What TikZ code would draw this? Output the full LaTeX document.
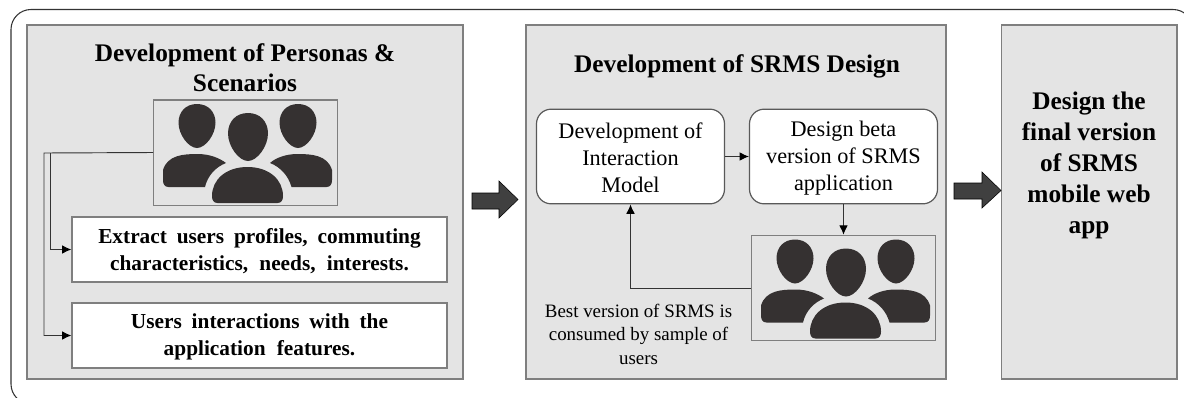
\documentclass[tikz,border=0pt]{standalone}
\usepackage{fontspec}
\setmainfont{Liberation Serif}
\usetikzlibrary{arrows.meta,calc}
\definecolor{panelgray}{HTML}{E4E4E4}
\definecolor{edgegray}{HTML}{7F7F7F}
\definecolor{icondark}{HTML}{353131}
\definecolor{arrowdark}{HTML}{404040}
\newcommand{\headshape}[4]{%
  \fill[icondark,shift={(#1,#2)}] (0,-#4)
   .. controls ({.6*#3},-#4) and (#3,{-.65*#4}) .. (#3,{-.15*#4})
   .. controls (#3,{.4*#4}) and ({.45*#3},#4) .. (0,#4)
   .. controls ({-.45*#3},#4) and ({-#3},{.4*#4}) .. ({-#3},{-.15*#4})
   .. controls ({-#3},{-.65*#4}) and ({-.6*#3},-#4) .. (0,-#4) -- cycle;}
\newcommand{\wsa}{\hspace{3.4pt}\ }
\newcommand{\wsb}{\hspace{4.4pt}\ }
\tikzset{
  x=0.75pt,y=-0.75pt,
  outerframe/.style={draw=black!80,line width=0.8pt,rounded corners=15pt},
  panel/.style={draw=edgegray,fill=panelgray,line width=1.1pt},
  whitebox/.style={draw=edgegray,fill=white,line width=1pt},
  roundbox/.style={draw=black!65,fill=white,line width=0.9pt,rounded corners=11pt},
  iconbox/.style={draw=edgegray,line width=1pt,inner sep=0pt,minimum width=137.6pt,minimum height=79pt},
  boldtitle/.style={inner sep=0pt,align=center,font=\fontsize{19}{22.5}\selectfont\bfseries},
  boldright/.style={inner sep=0pt,align=center,font=\fontsize{19}{23.3}\selectfont\bfseries},
  boldbox/.style={inner sep=0pt,align=center,font=\fontsize{16}{20}\selectfont\bfseries},
  regbox/.style={inner sep=0pt,align=center,font=\fontsize{16.7}{20.2}\selectfont},
  smalltxt/.style={inner sep=0pt,align=center,font=\fontsize{14.2}{17.6}\selectfont},
  conn/.style={draw=black!80,line width=0.7pt,-{Latex[length=7pt,width=6.5pt,black]}},
  bigarrow/.style={fill=arrowdark},
  people/.pic={
    \headshape{43.5}{26}{18.5}{22}
    \headshape{94.5}{37}{20}{24}
    \headshape{144.5}{26}{18.5}{22}
    \fill[icondark] (9.5,70) .. controls (14,55) and (30,54) .. (44,54)
      .. controls (56,54) and (66,58) .. (72.5,63)
      .. controls (62,67) and (54,76) .. (51.5,87) -- (15,87)
      .. controls (11,87) and (9.5,84) .. (9.5,80) -- cycle;
    \fill[icondark] (178.5,70) .. controls (174,55) and (158,54) .. (144,54)
      .. controls (132,54) and (122,58) .. (116.5,63)
      .. controls (127,67) and (135,76) .. (138,87) -- (173,87)
      .. controls (177,87) and (178.5,84) .. (178.5,80) -- cycle;
    \fill[icondark] (64,103) .. controls (60,103) and (58.5,100) .. (58.5,96)
      .. controls (58.5,80) and (72,67) .. (94,67)
      .. controls (116,67) and (129.5,80) .. (129.5,96)
      .. controls (129.5,100) and (128,103) .. (124,103) -- cycle;
  }
}
\begin{document}
\begin{tikzpicture}
\useasboundingbox (0,0) rectangle (1184,397);
\begin{scope}
\clip (0,0) rectangle (1184,397);
\draw[outerframe] (11,9.5) rectangle (1193,404);
\end{scope}

% panels
\draw[panel] (27,25) rectangle (463,379);
\draw[panel] (526,25) rectangle (946,379);
\draw[panel] (1001.5,25) rectangle (1177,379);

% left panel
\node[boldtitle] (t1) at (245,68) {Development of Personas \&\\Scenarios};
\node[iconbox] (p1) at (245.5,152.5) {};
\pic at (153.5,100) {people};
\node[whitebox,minimum width=281.25pt,minimum height=48.75pt,inner sep=0pt] (b1) at (259.5,249.5) {};
\node[boldbox] (b1t) at (259.5,251) {Extract\wsa users\wsa profiles,\wsa commuting\\characteristics,\wsb needs,\wsb interests.};
\node[whitebox,minimum width=281.25pt,minimum height=48.75pt,inner sep=0pt] (b2) at (259.5,335.5) {};
\node[boldbox] (b2t) at (259.5,337) {Users\wsa interactions\wsa with\wsa the\\application\wsb features.};
\coordinate (r1) at (50.5,153);
\coordinate (r2) at (44,153);
\draw[conn] (p1.west) -- (r2) |- (b2.west);
\draw[conn] (r1) |- (b1.west);

% middle panel
\node[boldtitle] (t2) at (737,66) {Development of SRMS Design};
\node[roundbox,minimum width=141pt,minimum height=71pt,inner sep=0pt] (a) at (630.5,156.5) {};
\node[regbox] (at) at (630.5,158) {Development of\\Interaction\\Model};
\node[roundbox,minimum width=141pt,minimum height=71pt,inner sep=0pt] (c) at (843.5,156.5) {};
\node[regbox] (ct) at (843.5,158) {Design beta\\version of SRMS\\application};
\node[iconbox] (p2) at (843.5,288) {};
\pic at (751.5,235.5) {people};
\node[smalltxt] (s) at (638.5,334) {Best version of SRMS is\\consumed by sample of\\users};
\draw[conn] (a.east) -- (c.west);
\draw[conn] (c.south) -- (p2.north);
\draw[conn] (p2.west) -| (a.south);

% right panel
\node[boldright] (t3) at (1089,165.5) {Design the\\final version\\of SRMS\\mobile web\\app};

% big arrows
\draw[bigarrow] (472,193) -- (499,193) -- (499,181) -- (518,199.5) -- (499,218) -- (499,209) -- (472,209) -- cycle;
\draw[bigarrow] (954,183) -- (982,183) -- (982,172) -- (1001,190.5) -- (982,208) -- (982,199) -- (954,199) -- cycle;
\end{tikzpicture}
\end{document}
